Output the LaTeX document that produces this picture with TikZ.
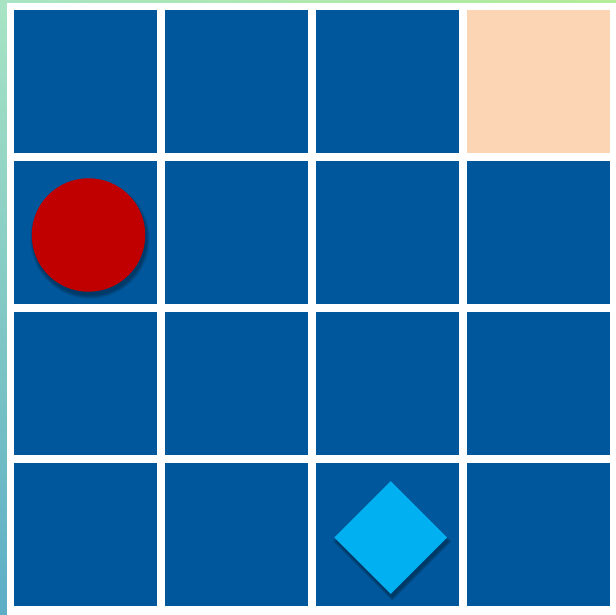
\documentclass[tikz,border=0pt]{standalone}
\usetikzlibrary{shapes.geometric,shadings}
\definecolor{cellblue}{HTML}{01579B}
\definecolor{peach}{HTML}{FCD5B5}
\definecolor{redball}{HTML}{C00000}
\definecolor{gem}{HTML}{00B0F0}
\definecolor{bgtl}{HTML}{A8E4C4}
\definecolor{bgtr}{HTML}{B4EC98}
\definecolor{bgbl}{HTML}{5CAEC6}
\definecolor{bgbr}{HTML}{80C4B8}
\tikzset{
  cell/.style={fill=cellblue, draw=none, minimum width=143pt, minimum height=143pt, inner sep=0pt, anchor=north west},
  goal/.style={cell, fill=peach},
  shadowlayer/.style={fill=black, opacity=0.07, draw=none, inner sep=0pt},
}
\begin{document}
\begin{tikzpicture}[x=1pt,y=-1pt]
\useasboundingbox (0,0) rectangle (616,614);
\shade[upper left=bgtl, upper right=bgtr, lower left=bgbl, lower right=bgbr] (0,0) rectangle (616,614);
\fill[white] (7,3) rectangle (620,620);
\foreach \r in {0,1,2,3}{
  \foreach \c in {0,1,2,3}{
    \ifnum\r=0 \ifnum\c=3
      \node[goal] (c\r\c) at ({14+151*\c},{10+151*\r}) {};
    \else
      \node[cell] (c\r\c) at ({14+151*\c},{10+151*\r}) {};
    \fi\else
      \node[cell] (c\r\c) at ({14+151*\c},{10+151*\r}) {};
    \fi
  }
}
% soft shadows
\foreach \k in {0,1.5,3,4.5,6}{
  \node[shadowlayer, circle, minimum size={113.5pt+\k pt}] at (90,239) {};
  \node[shadowlayer, diamond, aspect=1, minimum width={113pt+\k pt}, minimum height={113pt+\k pt}] at (392.3,541.5) {};
}
\node[circle, fill=redball, minimum size=113.5pt, inner sep=0pt] (agent) at (88.5,235) {};
\node[diamond, aspect=1, fill=gem, minimum width=113pt, minimum height=113pt, inner sep=0pt] (gemnode) at (390.8,537.5) {};
\end{tikzpicture}
\end{document}
